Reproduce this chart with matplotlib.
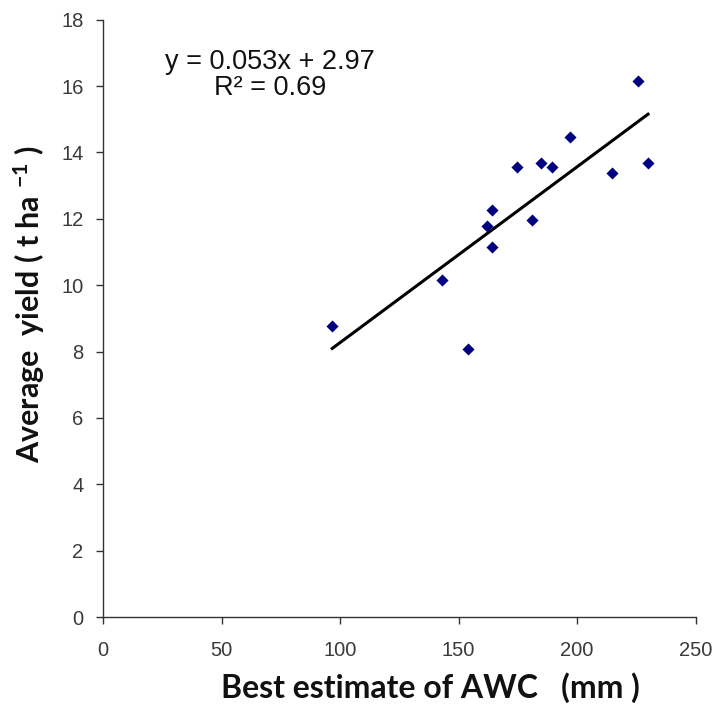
import matplotlib
matplotlib.use("Agg")
import matplotlib.pyplot as plt
import numpy as np

awc = [96.7, 142.8, 154.0, 161.8, 163.9, 163.9, 174.8, 181.0, 184.9, 189.2, 197.0, 214.9, 225.8, 229.9]
yield_ = [8.78, 10.16, 8.07, 11.79, 12.27, 11.16, 13.57, 11.96, 13.67, 13.57, 14.46, 13.38, 16.16, 13.67]
slope, intercept = 0.053, 2.97
x_ticks = [0, 50, 100, 150, 200, 250]
y_ticks = [0, 2, 4, 6, 8, 10, 12, 14, 16, 18]

fig = plt.figure(figsize=(7.15, 7.06), dpi=100)
ax = fig.add_axes([0.144, 0.126, 0.829, 0.846])

ax.scatter(awc, yield_, marker='D', s=38, color='#000080', zorder=3, linewidths=0)
xl = np.array([min(awc), max(awc)])
ax.plot(xl, slope * xl + intercept, color='black', lw=2.2, zorder=2)

ax.set_xlim(0, 250)
ax.set_ylim(0, 18)
ax.set_xticks(x_ticks)
ax.set_yticks(y_ticks)
for s in ['top', 'right']:
    ax.spines[s].set_visible(False)
for s in ['left', 'bottom']:
    ax.spines[s].set_color('#333333')
    ax.spines[s].set_linewidth(1.0)
ax.tick_params(direction='out', length=5, width=1, color='#333333',
               labelcolor='#3a3a3a', labelsize=14.5)
ax.tick_params(axis='x', pad=12)
ax.tick_params(axis='y', pad=9)
for lab in ax.get_xticklabels() + ax.get_yticklabels():
    lab.set_family('Liberation Sans')

ax.set_xlabel('Best estimate of AWC   (mm )', fontsize=23, fontweight='bold',
              family='Lato', color='#111111', va='baseline')
ax.xaxis.set_label_coords(0.553, -0.1357)
ax.set_ylabel('Average  yield ( t ha $\\mathregular{^{-1}}$ )', fontsize=22, fontweight='bold',
              family='Lato', color='#111111')
ax.yaxis.set_label_coords(-0.095, 0.523)

ax.text(70.6, 16.51, 'y = 0.053x + 2.97', ha='center', va='baseline', fontsize=19.5,
        family='Liberation Sans', color='#111111')
ax.text(70.6, 15.74, 'R² = 0.69', ha='center', va='baseline', fontsize=19.5,
        family='Liberation Sans', color='#111111')

fig.savefig('out.png', dpi=100)
